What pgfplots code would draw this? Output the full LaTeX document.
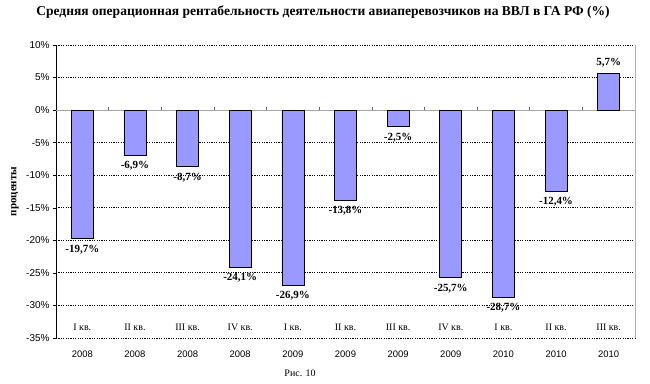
\documentclass[border=0pt]{standalone}
\usepackage{fontspec}
\setmainfont{Liberation Serif}
\setsansfont{Liberation Sans}
\usepackage{pgfplots}
\pgfplotsset{compat=1.18}
\usetikzlibrary{calc}
\definecolor{barblue}{RGB}{153,153,255}
\begin{document}
\begin{tikzpicture}
\begin{axis}[
  name=ax,
  scale only axis,
  width=579bp, height=293bp,
  xmin=-0.5, xmax=10.5,
  ymin=-35, ymax=10,
  axis y line*=left,
  axis x line*=bottom,
  x axis line style={draw=none},
  y axis line style={draw=black, line width=0.6pt},
  xtick={0,...,10},
  xticklabels={2008,2008,2008,2008,2009,2009,2009,2009,2010,2010,2010},
  major x tick style={draw=none},
  xticklabel style={font=\sffamily\fontsize{9.5}{10}\selectfont, yshift=-6bp},
  ytick={-35,-30,...,10},
  yticklabels={-35\%,-30\%,-25\%,-20\%,-15\%,-10\%,-5\%,0\%,5\%,10\%},
  yticklabel style={font=\sffamily\fontsize{10}{11}\selectfont},
  tick align=outside,
  major tick length=3bp,
  ytick style={black, line width=0.5pt},
  ymajorgrids,
  grid style={black, line width=0.9pt, dash pattern=on 1.2pt off 1.2pt},
  ylabel={\bfseries проценты},
  ylabel style={font=\fontsize{11}{12}\selectfont, at={(rel axis cs:0,0.5)}, anchor=center, rotate=0, yshift=41bp},
  clip=false,
]
\draw[gray!60, line width=0.5pt] (rel axis cs:1,0) -- (rel axis cs:1,1);
\draw[gray!70, line width=0.8pt] (axis cs:-0.5,0) -- (axis cs:10.5,0);
\pgfplotsinvokeforeach{0.5,1.5,2.5,3.5,4.5,5.5,6.5,7.5,8.5,9.5}{
  \draw[gray!80!black, line width=0.5pt] (axis cs:#1,0) -- (axis cs:#1,0.45);
}
\addplot[ybar, bar width=22bp, bar shift=0pt, fill=barblue, draw=black, line width=0.7pt,
  point meta=explicit symbolic,
  nodes near coords,
  every node near coord/.append style={font=\bfseries\fontsize{11}{12}\selectfont, inner sep=2pt, anchor=north, yshift=-4bp},
] table[x=x, y=y, meta=lab] {
x y lab
0 -19.7 {-19,7\%}
1 -6.9 {-6,9\%}
2 -8.7 {-8,7\%}
3 -24.1 {-24,1\%}
4 -26.9 {-26,9\%}
5 -13.8 {-13,8\%}
6 -2.5 {-2,5\%}
7 -25.7 {-25,7\%}
8 -28.7 {-28,7\%}
9 -12.4 {-12,4\%}
};
\addplot[ybar, bar width=22bp, bar shift=0pt, fill=barblue, draw=black, line width=0.7pt,
  point meta=explicit symbolic,
  nodes near coords,
  every node near coord/.append style={font=\bfseries\fontsize{11}{12}\selectfont, inner sep=2pt, anchor=south, yshift=3bp},
] table[x=x, y=y, meta=lab] {
x y lab
10 5.7 {5,7\%}
};
\node[font=\fontsize{10}{11}\selectfont] at (axis cs:0,-33.3) {I кв.};
\node[font=\fontsize{10}{11}\selectfont] at (axis cs:1,-33.3) {II кв.};
\node[font=\fontsize{10}{11}\selectfont] at (axis cs:2,-33.3) {III кв.};
\node[font=\fontsize{10}{11}\selectfont] at (axis cs:3,-33.3) {IV кв.};
\node[font=\fontsize{10}{11}\selectfont] at (axis cs:4,-33.3) {I кв.};
\node[font=\fontsize{10}{11}\selectfont] at (axis cs:5,-33.3) {II кв.};
\node[font=\fontsize{10}{11}\selectfont] at (axis cs:6,-33.3) {III кв.};
\node[font=\fontsize{10}{11}\selectfont] at (axis cs:7,-33.3) {IV кв.};
\node[font=\fontsize{10}{11}\selectfont] at (axis cs:8,-33.3) {I кв.};
\node[font=\fontsize{10}{11}\selectfont] at (axis cs:9,-33.3) {II кв.};
\node[font=\fontsize{10}{11}\selectfont] at (axis cs:10,-33.3) {III кв.};
\end{axis}
\path ($(ax.south west)+(-56bp,-46bp)$) rectangle ($(ax.north east)+(15bp,45bp)$);
\node[font=\bfseries\fontsize{13.6}{15}\selectfont] at ($(ax.north west)+(267bp,33bp)$) {Средняя операционная рентабельность деятельности авиаперевозчиков на ВВЛ в ГА РФ (\%)};
\node[font=\fontsize{10}{11}\selectfont] at ($(ax.south west)+(244bp,-35bp)$) {Рис. 10};
\end{tikzpicture}
\end{document}
